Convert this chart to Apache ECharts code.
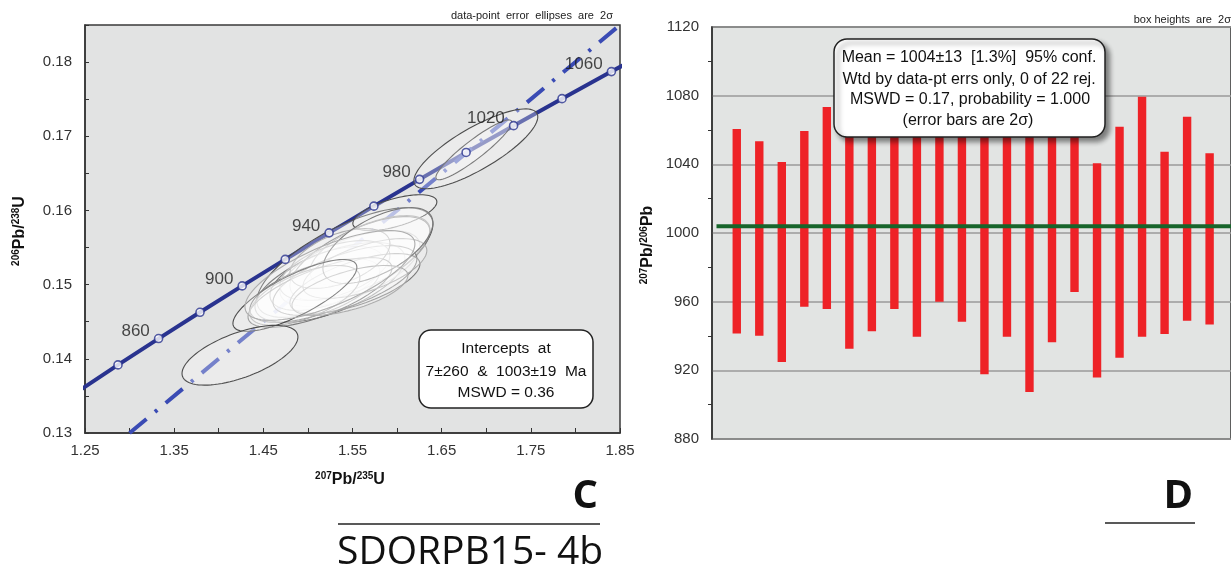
<!DOCTYPE html>
<html><head><meta charset="utf-8">
<script src="https://cdn.jsdelivr.net/npm/echarts@6/dist/echarts.min.js"></script>
<style>html,body{margin:0;padding:0;background:#fff;}#c{width:1231px;height:571px;}</style>
</head><body><div id="c"></div>
<script>
// ---------- Panel C: concordia ----------
const concAges = [820, 840, 860, 880, 900, 920, 940, 960, 980, 1000, 1020, 1040, 1060, 1080];
const concX = [1.24247, 1.28700, 1.33254, 1.37897, 1.42630, 1.47456, 1.52379, 1.57399, 1.62519, 1.67740, 1.73066, 1.78497, 1.84037, 1.89687];
const concY = [0.13564, 0.13918, 0.14273, 0.14627, 0.14983, 0.15340, 0.15698, 0.16058, 0.16419, 0.16782, 0.17143, 0.17507, 0.17872, 0.18239];
const markerAges = [840, 860, 880, 900, 920, 940, 960, 980, 1000, 1020, 1040, 1060];
const labelAges = [860, 900, 940, 980, 1020, 1060];
const discX = [1.30, 1.85];
const discY = [0.13, 0.185];
// error ellipses: centre, 2-sigma half widths, correlation, outline tone
const ellCx  = [1.5415, 1.5975, 1.5247, 1.5213, 1.5471, 1.5583, 1.5078, 1.5415, 1.5695, 1.5303, 1.5527, 1.5135, 1.5639, 1.5359, 1.5785, 1.4966, 1.5471, 1.4854, 1.6883, 1.6861, 1.4238, 1.5247];
const ellCy  = [0.15298, 0.15970, 0.15030, 0.15083, 0.15218, 0.15352, 0.14922, 0.15056, 0.15460, 0.15191, 0.15016, 0.14895, 0.15218, 0.15352, 0.15527, 0.14855, 0.14922, 0.14855, 0.16831, 0.16817, 0.14048, 0.15124];
const ellEx  = [0.0987, 0.0471, 0.0841, 0.0639, 0.0785, 0.0785, 0.0729, 0.0807, 0.0673, 0.0617, 0.0729, 0.0807, 0.0695, 0.0561, 0.0617, 0.0617, 0.0650, 0.0695, 0.0695, 0.0426, 0.0650, 0.0953];
const ellEy  = [0.00739, 0.00242, 0.00538, 0.00430, 0.00511, 0.00565, 0.00430, 0.00470, 0.00470, 0.00403, 0.00403, 0.00470, 0.00403, 0.00403, 0.00511, 0.00403, 0.00336, 0.00484, 0.00538, 0.00403, 0.00403, 0.00605];
const ellRho = [0.70, 0.60, 0.60, 0.53, 0.60, 0.65, 0.60, 0.62, 0.60, 0.50, 0.65, 0.70, 0.60, 0.50, 0.60, 0.60, 0.60, 0.78, 0.80, 0.92, 0.61, 0.70];
const ellTone = ['d','d','d','d','l','m','d','d','l','l','m','m','l','l','m','l','l','d','d','m','d','l'];
// ---------- Panel D: 207Pb/206Pb ages ----------
const spotNo  = [1,2,3,4,5,6,7,8,9,10,11,12,13,14,15,16,17,18,19,20,21,22];
const ageLow  = [941.5, 940.2, 924.8, 957.0, 955.8, 932.6, 942.7, 955.8, 939.6, 959.9, 948.3, 917.7, 939.6, 907.4, 936.4, 965.7, 915.8, 927.4, 939.6, 941.1, 948.9, 946.7];
const ageHigh = [1060.6, 1053.5, 1041.3, 1059.4, 1073.4, 1072, 1064, 1058, 1066, 1058, 1063, 1084, 1066, 1094, 1068, 1060, 1040.7, 1061.9, 1079.4, 1047.4, 1067.7, 1046.5];
const meanAge = 1004;
const meanSpan = [0.1, 22.95];

const FF = '"Liberation Sans", Arial, sans-serif';
const toneColor = {d: '#4d4d4d', m: '#7a7a7a', l: '#adadad'};

const chart = echarts.init(document.getElementById('c'), null, {renderer: 'canvas'});

function supLabel(parts) {
  return {
    text: parts.map(p => '{' + p[0] + '|' + p[1] + '}').join(''),
    rich: {
      s: {fontSize: 10, fontWeight: 'bold', fontFamily: FF, fill: '#111', verticalAlign: 'top', lineHeight: 10},
      b: {fontSize: 16, fontWeight: 'bold', fontFamily: FF, fill: '#111', lineHeight: 18}
    }
  };
}

const option = {
  animation: false,
  backgroundColor: '#ffffff',
  grid: [
    {left: 85, top: 25, width: 535, height: 408, show: true, backgroundColor: '#e2e3e3', borderColor: '#3a3a3a', borderWidth: 1.5},
    {left: 712, top: 27, width: 524, height: 412, show: true, backgroundColor: '#e2e4e3', borderColor: '#333', borderWidth: 1.5}
  ],
  xAxis: [
    {gridIndex: 0, type: 'value', min: 1.25, max: 1.85, interval: 0.05,
     axisLine: {show: true, onZero: false, lineStyle: {color: '#333', width: 1.5}},
     axisTick: {show: true, inside: true, length: 5, lineStyle: {color: '#333', width: 1}},
     splitLine: {show: false},
     axisLabel: {margin: 10, fontSize: 15, color: '#333', fontFamily: FF,
       formatter: v => (Math.round(v * 100) % 10 === 5) ? v.toFixed(2) : ''}},
    {gridIndex: 1, type: 'value', min: -0.1, max: 22.95, show: false}
  ],
  yAxis: [
    {gridIndex: 0, type: 'value', min: 0.13, max: 0.185, interval: 0.005,
     axisLine: {show: true, onZero: false, lineStyle: {color: '#333', width: 1.5}},
     axisTick: {show: true, inside: true, length: 4, lineStyle: {color: '#333', width: 1}},
     splitLine: {show: false},
     axisLabel: {margin: 13, fontSize: 15, color: '#333', fontFamily: FF,
       formatter: v => (Math.round(v * 1000) % 10 === 0 && v < 0.1849) ? v.toFixed(2) : ''}},
    {gridIndex: 1, type: 'value', min: 880, max: 1120, interval: 40,
     axisLine: {show: true, onZero: false, lineStyle: {color: '#333', width: 1.5}},
     axisTick: {show: false},
     minorTick: {show: true, splitNumber: 2, length: 4, lineStyle: {color: '#333'}},
     splitLine: {show: true, lineStyle: {color: '#9a9a9a', width: 1.5}},
     axisLabel: {margin: 13, fontSize: 15, color: '#333', fontFamily: FF, formatter: v => String(v)}}
  ],
  series: [
    {type: 'line', xAxisIndex: 0, yAxisIndex: 0, z: 2, symbol: 'none', clip: true,
     data: concX.map((x, i) => [x, concY[i]]),
     lineStyle: {color: '#29338f', width: 4}},
    {type: 'line', xAxisIndex: 0, yAxisIndex: 0, z: 3, symbol: 'none', clip: true,
     data: discX.map((x, i) => [x, discY[i]]),
     lineStyle: {color: '#3a4bb4', width: 4, type: [22, 11, 3, 11]}},
    {type: 'custom', xAxisIndex: 0, yAxisIndex: 0, z: 4, clip: true,
     encode: {x: 0, y: 1},
     data: ellCx.map((c, i) => [c, ellCy[i], ellEx[i], ellEy[i], ellRho[i]]),
     renderItem: function (params, api) {
       const cx = api.value(0), cy = api.value(1), ex = api.value(2), ey = api.value(3), r = api.value(4);
       const k = Math.sqrt(1 - r * r), pts = [];
       for (let i = 0; i < 90; i++) {
         const t = i / 90 * 2 * Math.PI;
         pts.push(api.coord([cx + ex * Math.cos(t), cy + ey * (r * Math.cos(t) + k * Math.sin(t))]));
       }
       return {type: 'polygon', shape: {points: pts},
         style: {fill: 'rgba(255,255,255,0.30)', stroke: toneColor[ellTone[params.dataIndex]], lineWidth: 1.1}};
     }},
    {type: 'scatter', xAxisIndex: 0, yAxisIndex: 0, z: 6, symbol: 'circle', symbolSize: 8,
     itemStyle: {color: '#ffffff', borderColor: '#29338f', borderWidth: 1.6},
     data: markerAges.map(a => {
       const i = concAges.indexOf(a);
       return {value: [concX[i], concY[i], a], label: {show: labelAges.indexOf(a) >= 0}};
     }),
     label: {position: 'left', distance: 4, offset: [0, -7], fontSize: 17, color: '#1a1a1a', fontFamily: FF,
       formatter: p => String(p.value[2])}},
    {type: 'custom', xAxisIndex: 1, yAxisIndex: 1, z: 2,
     encode: {x: 0, y: [1, 2]},
     data: spotNo.map((n, i) => [n, ageLow[i], ageHigh[i]]),
     renderItem: function (params, api) {
       const x = api.value(0);
       const a = api.coord([x, api.value(2)]), b = api.coord([x, api.value(1)]);
       return {type: 'rect', shape: {x: a[0] - 4.2, y: a[1], width: 8.4, height: b[1] - a[1]},
         style: {fill: '#ee2227'}};
     }},
    {type: 'line', xAxisIndex: 1, yAxisIndex: 1, z: 3, symbol: 'none',
     data: meanSpan.map(x => [x, meanAge]),
     lineStyle: {color: '#17652b', width: 4}}
  ],
  graphic: [
    {type: 'text', z: 100, x: 613, y: 16, style: {text: 'data-point  error  ellipses  are  2σ', fontSize: 11, fontFamily: FF, fill: '#222', textAlign: 'right', textVerticalAlign: 'middle'}},
    {type: 'rect', z: 100, shape: {x: 419, y: 330, width: 174, height: 78, r: 12}, style: {fill: '#fff', stroke: '#222', lineWidth: 1.5}},
    {type: 'text', z: 101, x: 506, y: 349, style: {text: 'Intercepts  at', fontSize: 15.5, fontFamily: FF, fill: '#111', textAlign: 'center', textVerticalAlign: 'middle'}},
    {type: 'text', z: 101, x: 506, y: 372, style: {text: '7±260  &  1003±19  Ma', fontSize: 15.5, fontFamily: FF, fill: '#111', textAlign: 'center', textVerticalAlign: 'middle'}},
    {type: 'text', z: 101, x: 506, y: 393, style: {text: 'MSWD = 0.36', fontSize: 15.5, fontFamily: FF, fill: '#111', textAlign: 'center', textVerticalAlign: 'middle'}},
    {type: 'text', z: 100, x: 20, y: 231, rotation: Math.PI / 2,
     style: Object.assign(supLabel([['s', '206'], ['b', 'Pb/'], ['s', '238'], ['b', 'U']]), {textAlign: 'center', textVerticalAlign: 'middle'})},
    {type: 'text', z: 100, x: 350, y: 480,
     style: Object.assign(supLabel([['s', '207'], ['b', 'Pb/'], ['s', '235'], ['b', 'U']]), {textAlign: 'center', textVerticalAlign: 'middle'})},
    {type: 'text', z: 100, x: 598, y: 497, style: {text: 'C', fontSize: 40, fontWeight: 'bold', fontFamily: '"Open Sans", sans-serif', fill: '#111', textAlign: 'right', textVerticalAlign: 'middle'}},
    {type: 'line', z: 100, shape: {x1: 338, y1: 524, x2: 600, y2: 524}, style: {stroke: '#222', lineWidth: 1.5}},
    {type: 'text', z: 100, x: 337, y: 553, style: {text: 'SDORPB15- 4b', fontSize: 39, fontFamily: '"Open Sans", sans-serif', fill: '#111', textAlign: 'left', textVerticalAlign: 'middle'}},
    {type: 'text', z: 100, x: 1231, y: 20, style: {text: 'box heights  are  2σ', fontSize: 11, fontFamily: FF, fill: '#222', textAlign: 'right', textVerticalAlign: 'middle'}},
    {type: 'rect', z: 100, shape: {x: 834, y: 39, width: 271, height: 98, r: 13},
     style: {fill: '#fff', stroke: '#222', lineWidth: 1.5, shadowBlur: 5, shadowOffsetX: 4, shadowOffsetY: 4, shadowColor: 'rgba(0,0,0,0.45)'}},
    {type: 'text', z: 101, x: 969, y: 58, style: {text: 'Mean = 1004±13  [1.3%]  95% conf.', fontSize: 16, fontFamily: FF, fill: '#111', textAlign: 'center', textVerticalAlign: 'middle'}},
    {type: 'text', z: 101, x: 969, y: 80, style: {text: 'Wtd by data-pt errs only, 0 of 22 rej.', fontSize: 16, fontFamily: FF, fill: '#111', textAlign: 'center', textVerticalAlign: 'middle'}},
    {type: 'text', z: 101, x: 970, y: 100, style: {text: 'MSWD = 0.17, probability = 1.000', fontSize: 16, fontFamily: FF, fill: '#111', textAlign: 'center', textVerticalAlign: 'middle'}},
    {type: 'text', z: 101, x: 968, y: 121, style: {text: '(error bars are 2σ)', fontSize: 16, fontFamily: FF, fill: '#111', textAlign: 'center', textVerticalAlign: 'middle'}},
    {type: 'text', z: 100, x: 648, y: 245, rotation: Math.PI / 2,
     style: Object.assign(supLabel([['s', '207'], ['b', 'Pb/'], ['s', '206'], ['b', 'Pb']]), {textAlign: 'center', textVerticalAlign: 'middle'})},
    {type: 'text', z: 100, x: 1193, y: 497, style: {text: 'D', fontSize: 40, fontWeight: 'bold', fontFamily: '"Open Sans", sans-serif', fill: '#111', textAlign: 'right', textVerticalAlign: 'middle'}},
    {type: 'line', z: 100, shape: {x1: 1105, y1: 523, x2: 1195, y2: 523}, style: {stroke: '#222', lineWidth: 1.5}}
  ]
};
chart.setOption(option);
</script></body></html>
